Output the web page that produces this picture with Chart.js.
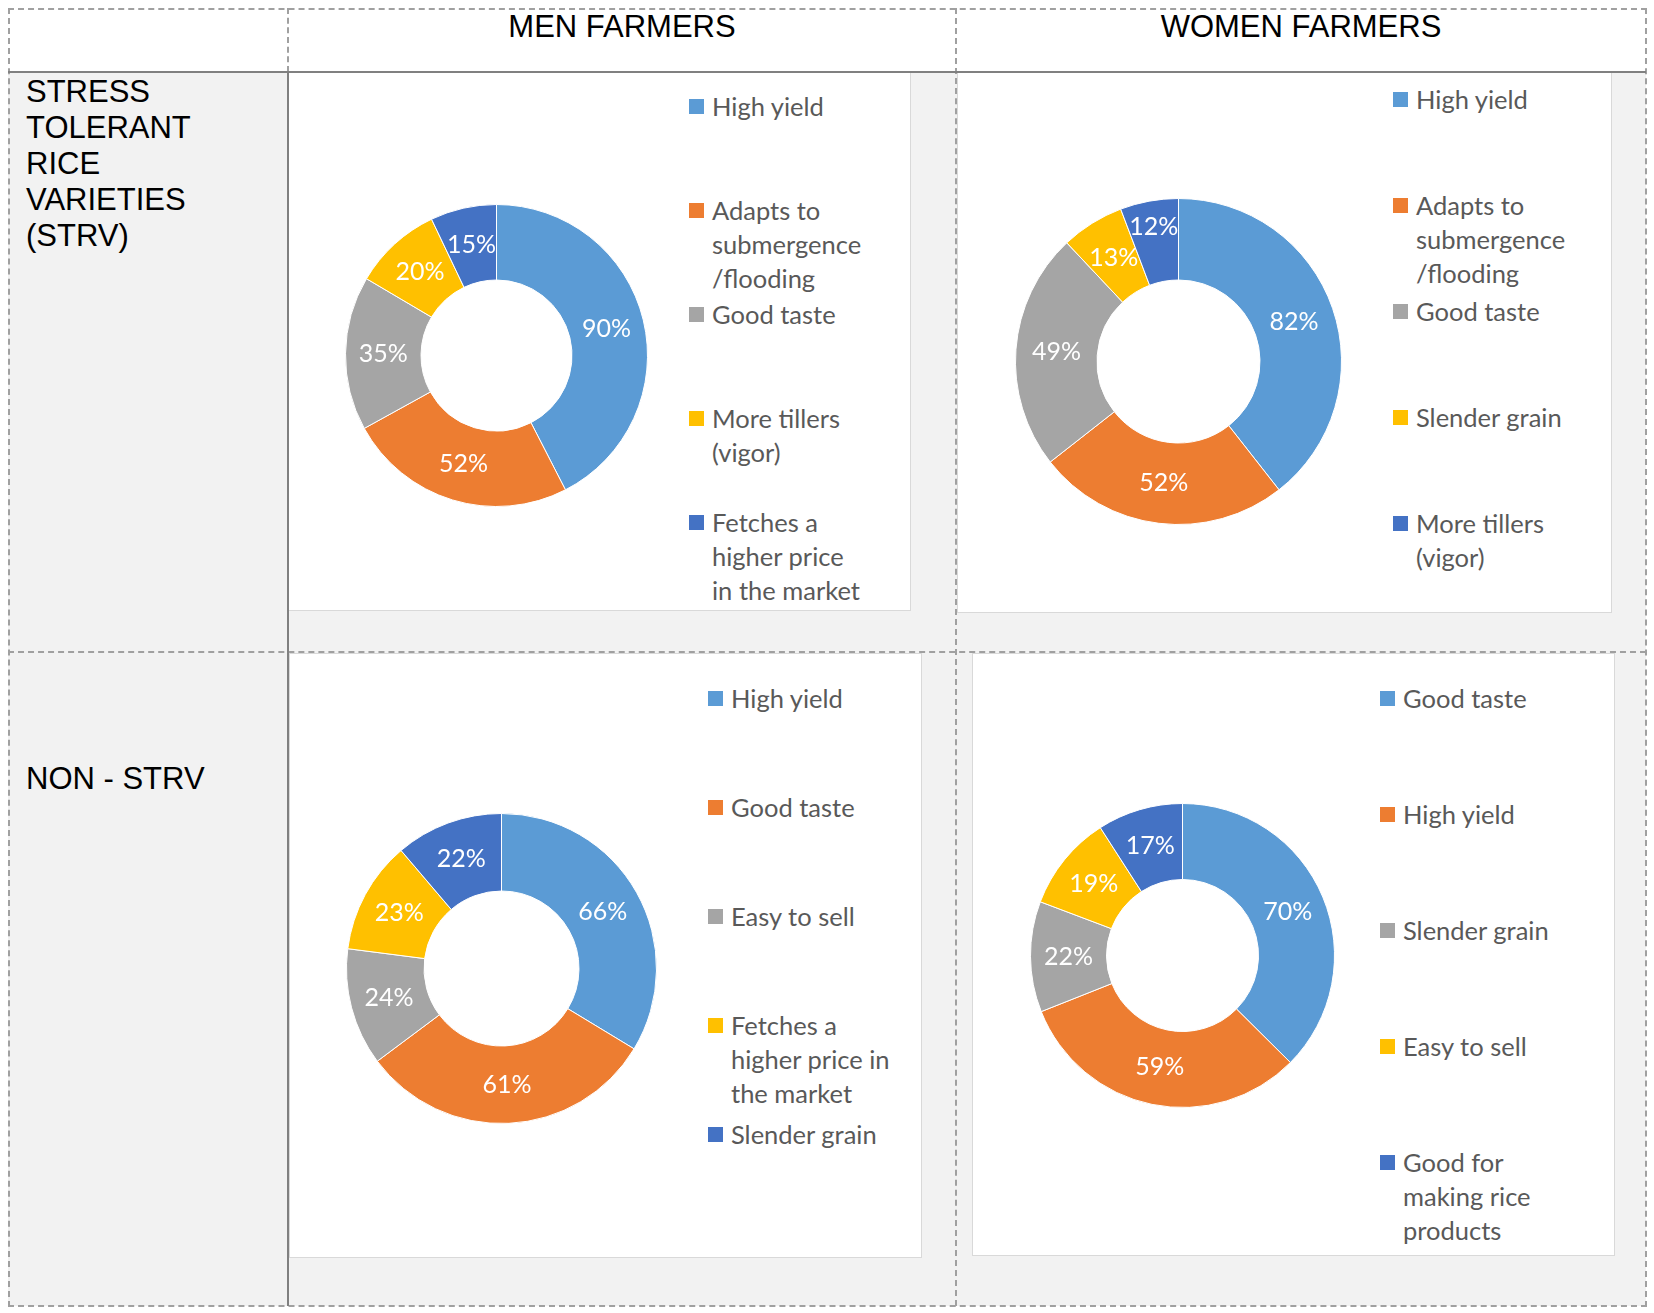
<!DOCTYPE html>
<html>
<head>
<meta charset="utf-8">
<script src="https://cdn.jsdelivr.net/npm/chart.js@4.4.1/dist/chart.umd.min.js"></script>
<style>
  body { margin: 0; background: #fff; width: 1654px; height: 1313px; position: relative; overflow: hidden; }
  .abs { position: absolute; }
  .grey { background: #f2f2f2; }
  .panel { position: absolute; background: #fff; border: 1px solid #d9d9d9; box-sizing: border-box; }
  .head { position: absolute; font-family: "Liberation Sans", Arial, sans-serif; font-size: 31px; line-height: 36px; color: #000; white-space: nowrap; }
  .chartbox { position: absolute; }
  .legend { position: absolute; font-family: Lato, sans-serif; font-size: 25.5px; line-height: 34px; color: #595959; }
  .legend .item { position: absolute; left: 0; white-space: nowrap; }
  .legend .box { position: absolute; left: 0; top: 10px; width: 15px; height: 15px; }
  .legend .txt { position: absolute; left: 23px; top: 0; }
</style>
</head>
<body>

<div class="abs grey" style="left:8px;top:72px;width:1638px;height:1234px;"></div>

<div class="abs" style="left:8px;top:8px;width:1639px;height:1299px;border:2px dashed #a0a0a0;box-sizing:border-box;"></div>
<div class="abs" style="left:955px;top:8px;width:0;height:1298px;border-left:2px dashed #a0a0a0;"></div>
<div class="abs" style="left:8px;top:651px;width:1638px;height:0;border-top:2px dashed #a0a0a0;"></div>
<div class="abs" style="left:287px;top:8px;width:0;height:64px;border-left:2px dashed #a0a0a0;"></div>

<div class="panel" id="p1" style="left:288px;top:72px;width:623px;height:539px;"></div>
<div class="panel" id="p2" style="left:957px;top:72px;width:655px;height:541px;"></div>
<div class="panel" id="p3" style="left:289px;top:653px;width:633px;height:605px;"></div>
<div class="panel" id="p4" style="left:972px;top:653px;width:643px;height:603px;"></div>

<div class="abs" style="left:8px;top:71px;width:1638px;height:0;border-top:2px solid #808080;"></div>
<div class="abs" style="left:287px;top:72px;width:0;height:1234px;border-left:2px solid #808080;"></div>

<div class="head" id="colMen" style="top:9px;left:288px;width:668px;text-align:center;"></div>
<div class="head" id="colWomen" style="top:9px;left:956px;width:690px;text-align:center;"></div>
<div class="head" id="rowStrv" style="top:74px;left:26px;"></div>
<div class="head" id="rowNon" style="top:761px;left:26px;"></div>

<script>
// table headings
const columnHeads = ['MEN FARMERS', 'WOMEN FARMERS'];
const rowHeads = [['STRESS', 'TOLERANT', 'RICE', 'VARIETIES', '(STRV)'], ['NON - STRV']];

// slice colours (Office palette)
const sliceColors = ['#5B9BD5', '#ED7D31', '#A5A5A5', '#FFC000', '#4472C4'];

// men farmers, STRV
const menStrvLabels = [['High yield'], ['Adapts to', 'submergence', '/flooding'], ['Good taste'], ['More tillers', '(vigor)'], ['Fetches a', 'higher price', 'in the market']];
const menStrvValues = [90, 52, 35, 20, 15];

// women farmers, STRV
const womenStrvLabels = [['High yield'], ['Adapts to', 'submergence', '/flooding'], ['Good taste'], ['Slender grain'], ['More tillers', '(vigor)']];
const womenStrvValues = [82, 52, 49, 13, 12];

// men farmers, non-STRV
const menNonLabels = [['High yield'], ['Good taste'], ['Easy to sell'], ['Fetches a', 'higher price in', 'the market'], ['Slender grain']];
const menNonValues = [66, 61, 24, 23, 22];

// women farmers, non-STRV
const womenNonLabels = [['Good taste'], ['High yield'], ['Slender grain'], ['Easy to sell'], ['Good for', 'making rice', 'products']];
const womenNonValues = [70, 59, 22, 19, 17];


document.getElementById('colMen').textContent = columnHeads[0];
document.getElementById('colWomen').textContent = columnHeads[1];
document.getElementById('rowStrv').innerHTML = rowHeads[0].join('<br>');
document.getElementById('rowNon').innerHTML = rowHeads[1].join('<br>');


// white % labels in the ring of each slice
// (radial: optional map slice index -> position across the ring, 0 = inner edge, 1 = outer edge)
const sliceLabels = {
	id: 'sliceLabels',
	afterDatasetsDraw(chart, args, opts) {
		const ctx = chart.ctx;
		const meta = chart.getDatasetMeta(0);
		const data = chart.data.datasets[0].data;
		const radial = opts.radial || {};
		ctx.save();
		ctx.font = '25px Lato';
		ctx.fillStyle = '#ffffff';
		ctx.textAlign = 'center';
		ctx.textBaseline = 'middle';
		meta.data.forEach((arc, i) => {
			let p = arc.tooltipPosition();
			if (radial[i] !== undefined) {
				const mid = (arc.startAngle + arc.endAngle) / 2;
				const rr = arc.innerRadius + (arc.outerRadius - arc.innerRadius) * radial[i];
				p = { x: arc.x + Math.cos(mid) * rr, y: arc.y + Math.sin(mid) * rr };
			}
			ctx.fillText(data[i] + '%', p.x, p.y);
		});
		ctx.restore();
	}
};


function buildLegend(chart, panel, x, y, slot) {
	const legend = document.createElement('div');
	legend.className = 'legend';
	legend.style.left = x + 'px';
	legend.style.top = y + 'px';
	const items = chart.options.plugins.legend.labels.generateLabels(chart);
	items.forEach((item, i) => {
		const row = document.createElement('div');
		row.className = 'item';
		row.style.top = (i * slot) + 'px';
		const box = document.createElement('div');
		box.className = 'box';
		box.style.background = item.fillStyle;
		const txt = document.createElement('div');
		txt.className = 'txt';
		txt.innerHTML = chart.data.labels[i].join('<br>');
		row.appendChild(box);
		row.appendChild(txt);
		legend.appendChild(row);
	});
	panel.appendChild(legend);
}


function drawDonut(panelId, labels, values, cx, cy, r, legendX, legendY, slot, radial) {
	const panel = document.getElementById(panelId);
	const rect = panel.getBoundingClientRect();
	const size = 2 * r + 1;
	const box = document.createElement('div');
	box.className = 'chartbox';
	box.style.left = (cx - r - rect.left) + 'px';
	box.style.top = (cy - r - rect.top) + 'px';
	box.style.width = size + 'px';
	box.style.height = size + 'px';
	const canvas = document.createElement('canvas');
	box.appendChild(canvas);
	panel.appendChild(box);

	const chart = new Chart(canvas.getContext('2d'), {
		type: 'doughnut',
		data: {
			labels: labels,
			datasets: [{
				data: values,
				backgroundColor: sliceColors,
				borderColor: '#ffffff',
				borderWidth: 1,
				hoverOffset: 0
			}]
		},
		options: {
			responsive: true,
			maintainAspectRatio: false,
			animation: false,
			events: [],
			cutout: '50%',
			layout: { padding: 0 },
			plugins: {
				legend: { display: false },
				tooltip: { enabled: false },
				sliceLabels: { radial: radial }
			}
		},
		plugins: [sliceLabels]
	});

	buildLegend(chart, panel, legendX - rect.left, legendY - rect.top, slot);
	return chart;
}


window.addEventListener('DOMContentLoaded', () => {
	drawDonut('p1', menStrvLabels, menStrvValues, 495, 354, 151, 688, 88, 104);
	drawDonut('p2', womenStrvLabels, womenStrvValues, 1177, 360, 163, 1392, 81, 106, { 4: 0.68 });
	drawDonut('p3', menNonLabels, menNonValues, 500, 967, 155, 707, 680, 109);
	drawDonut('p4', womenNonLabels, womenNonValues, 1181, 954, 152, 1379, 680, 116);
});
</script>
</body>
</html>
